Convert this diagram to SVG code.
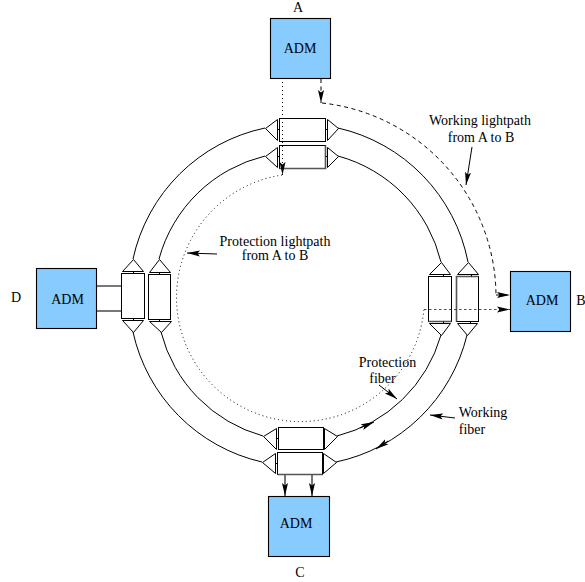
<svg xmlns="http://www.w3.org/2000/svg" width="585" height="582" viewBox="0 0 585 582">
<style>
text{font-family:"Liberation Serif","Times New Roman",serif;font-size:14px;fill:#000;text-anchor:middle}
.adm rect{fill:#87cbff;stroke:#000;stroke-width:1.1}
.b{fill:#fff;stroke:#000;stroke-width:1}
.t{fill:#fff;stroke:#000;stroke-width:1}
.f{fill:none;stroke:#000;stroke-width:1}
.dot{fill:none;stroke:#000;stroke-width:1;stroke-dasharray:1 3}
.dash{fill:none;stroke:#000;stroke-width:1;stroke-dasharray:4 3.5}
.fine{fill:none;stroke:#222;stroke-width:.8;stroke-dasharray:2.5 2.5}
.s{fill:none;stroke:#000;stroke-width:1}
.g{stroke:#555;stroke-width:1.6;fill:none}
.a{marker-end:url(#ah)}
</style>
<defs>
<marker id="ah" markerUnits="userSpaceOnUse" markerWidth="15" markerHeight="8" refX="13" refY="3.5" orient="auto">
<path d="M0 0.5L13 3.5L0 6.5L2.5 3.5Z" fill="#000"/>
</marker>
</defs>
<g id="connectors">
<g id="working-fiber">
<path class="f" d="M265 128A171 171 0 0 0 133 259"/>
<path class="f" d="M338 128A171 171 0 0 1 468 262"/>
<path class="f" d="M467 335A171 171 0 0 1 336 462"/>
<path class="f" d="M262 462A171 171 0 0 1 133 332"/>
</g>
<g id="protection-fiber">
<path class="f" d="M265 156A145 145 0 0 0 159 259"/>
<path class="f" d="M338 156A145 145 0 0 1 441 262"/>
<path class="f" d="M441 335A145 145 0 0 1 337 436"/>
<path class="f" d="M263 436A145 145 0 0 1 161 332"/>
</g>
<g id="ring-arrows">
<path class="s a" d="M360 428L374 422"/>
<path class="s a" d="M388 441L376 449"/>
</g>
<g id="d-links">
<path class="g" d="M96 286H121"/>
<path class="g" d="M96 311H121"/>
</g>
<g id="c-links">
<path class="g a" d="M285 475V496"/>
<path class="g a" d="M312 475V496"/>
</g>
<path id="protection-lightpath" class="dot" d="M282 175A124 124 0 1 0 424 309"/>
<path id="working-lightpath-drop" class="dash a" d="M321 79V103"/>
<path id="working-lightpath" class="dash" d="M322 103A195 195 0 0 1 496 295"/>
<path id="working-lightpath-in" class="dash a" d="M496 295H510"/>
<g id="label-pointers">
<path class="s a" d="M472 147L466 185"/>
<path class="s a" d="M217 254L187 253"/>
<path class="s a" d="M379 385L397 399"/>
<path class="s a" d="M455 418L430 415"/>
</g>
</g>
<g id="coupler-top" transform="translate(.5 .5)">
<rect class="b" x="279" y="118" width="46" height="23"/>
<rect class="b" x="279" y="145" width="46" height="23"/>
<path class="g" d="M279 168H325V145"/>
<path class="t" d="M277 119V140L265 128Z"/>
<path class="t" d="M327 119V140L338 128Z"/>
<path class="t" d="M277 147V167L265 156Z"/>
<path class="t" d="M327 147V167L338 156Z"/>
<path class="s" d="M277 129H279M325 129H327M277 156H279M325 156H327"/>
</g>
<g id="coupler-left" transform="translate(.5 .5)">
<rect class="b" x="121" y="273" width="23" height="45"/>
<rect class="b" x="148" y="274" width="22" height="45"/>
<path class="t" d="M122 271H143L133 259Z"/>
<path class="t" d="M122 320H143L133 332Z"/>
<path class="t" d="M149 272H170L159 259Z"/>
<path class="t" d="M149 321H171L161 332Z"/>
<path class="s" d="M133 271V273M133 318V320M159 272V274M159 319V321"/>
</g>
<g id="coupler-right" transform="translate(.5 .5)">
<rect class="b" x="428" y="276" width="23" height="45"/>
<rect class="b" x="456" y="276" width="22" height="45"/>
<path class="g" d="M428 321H451M456 321V276H478"/>
<path class="t" d="M429 274H450L441 262Z"/>
<path class="t" d="M429 323H450L441 335Z"/>
<path class="t" d="M457 274H478L468 262Z"/>
<path class="t" d="M457 323H477L467 335Z"/>
<path class="s" d="M443 274V276M443 321V323M471 274V276M470 321V323"/>
</g>
<g id="coupler-bottom" transform="translate(.5 .5)">
<rect class="b" x="278" y="427" width="45" height="22"/>
<rect class="b" x="277" y="452" width="45" height="22"/>
<path class="g" d="M277 474H322"/>
<path class="t" d="M276 428V449L263 436Z"/>
<path class="t" d="M324 428V449L337 436Z"/>
<path class="t" d="M275 453V473L262 462Z"/>
<path class="t" d="M323 453V473L336 462Z"/>
<path class="s" d="M276 438H278M323 438H324M275 463H277M322 463H323"/>
</g>
<g id="adm-a" class="adm"><rect x="270.500" y="18.500" width="60" height="60"/><text x="300" y="53">ADM</text></g>
<g id="adm-b" class="adm"><rect x="510.500" y="271.500" width="60" height="60"/><text x="542" y="305">ADM</text></g>
<g id="adm-c" class="adm"><rect x="268.500" y="496.500" width="61" height="60"/><text x="296" y="528">ADM</text></g>
<g id="adm-d" class="adm"><rect x="36.500" y="268.500" width="60" height="60"/><text x="67.500" y="304">ADM</text></g>
<g id="overlay-lightpaths">
<path id="protection-lightpath-drop" class="dot a" d="M282.500 78V175"/>
<path id="protection-lightpath-in" class="fine a" d="M424 309.500H510"/>
</g>
<g id="labels">
<text x="298" y="12">A</text>
<text x="581" y="305">B</text>
<text x="300" y="577">C</text>
<text x="16" y="302">D</text>
<text x="480" y="125">Working lightpath</text>
<text x="481" y="142">from A to B</text>
<text x="275" y="246">Protection lightpath</text>
<text x="275" y="260">from A to B</text>
<text x="387.500" y="367">Protection</text>
<text x="382.500" y="383">fiber</text>
<text x="483" y="417">Working</text>
<text x="472" y="434">fiber</text>
</g>
</svg>
